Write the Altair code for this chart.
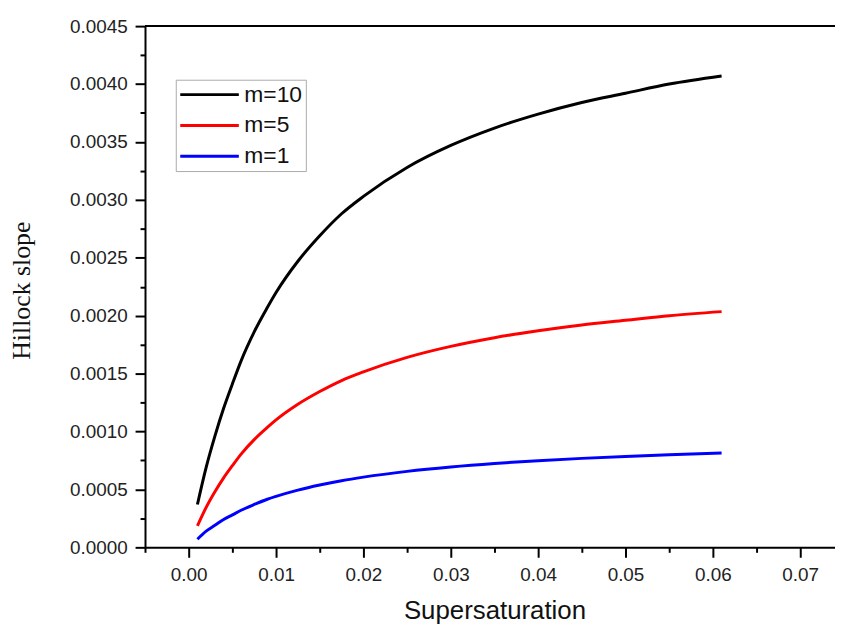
import altair as alt
import pandas as pd

# ---- data ----
sigma = [0.001, 0.002, 0.003, 0.004, 0.005, 0.006, 0.0075, 0.009, 0.01, 0.0125, 0.015,
         0.0175, 0.02, 0.025, 0.03, 0.035, 0.04, 0.045, 0.05, 0.055, 0.061]
slope_m10 = [0.00037, 0.00069, 0.00096, 0.00120, 0.00141, 0.00161, 0.00186, 0.00207, 0.00220,
             0.00247, 0.00269, 0.00288, 0.00303, 0.00328, 0.00347, 0.00362, 0.00374, 0.00384,
             0.00392, 0.00400, 0.00407]
slope_m5 = [0.000185, 0.000345, 0.00048, 0.000600, 0.000705, 0.000805, 0.00093, 0.001035, 0.00110,
            0.001235, 0.001345, 0.00144, 0.001515, 0.00164, 0.001735, 0.00181, 0.00187, 0.00192,
            0.00196, 0.00200, 0.002035]
slope_m1 = [0.00007, 0.00014, 0.00019, 0.00024, 0.00028, 0.00032, 0.00037, 0.000415, 0.00044,
            0.000494, 0.000538, 0.000575, 0.000606, 0.000656, 0.000694, 0.000724, 0.000748,
            0.000768, 0.000785, 0.000799, 0.000814]

series_names = ["m=10", "m=5", "m=1"]
series_colors = ["#000000", "#ff0000", "#0000ff"]

x_major = [0.0, 0.01, 0.02, 0.03, 0.04, 0.05, 0.06, 0.07]
x_minor = [-0.005, 0.005, 0.015, 0.025, 0.035, 0.045, 0.055, 0.065]
y_major = [0.0, 0.0005, 0.001, 0.0015, 0.002, 0.0025, 0.003, 0.0035, 0.004, 0.0045]
y_minor = [0.00025, 0.00075, 0.00125, 0.00175, 0.00225, 0.00275, 0.00325, 0.00375, 0.00425]

rows = []
for name, vals in zip(series_names, [slope_m10, slope_m5, slope_m1]):
    for s, v in zip(sigma, vals):
        rows.append({"sigma": s, "slope": v, "series": name})
df = pd.DataFrame(rows)

xscale = alt.Scale(domain=[-0.005, 0.07398], nice=False, zero=False)
yscale = alt.Scale(domain=[0.0, 0.0045], nice=False, zero=False)

LABEL_FONT = "Liberation Sans"

lines = alt.Chart(df).mark_line(strokeWidth=3, interpolate="monotone").encode(
    x=alt.X("sigma:Q", scale=xscale,
            axis=alt.Axis(values=x_major, format=".2f", title="Supersaturation",
                          orient="bottom", tickSize=10, labelPadding=8,
                          titleFont=LABEL_FONT, titleFontSize=26, titleFontWeight="normal",
                          titleColor="#111111", titleBaseline="alphabetic",
                          titleX=352, titleY=72)),
    y=alt.Y("slope:Q", scale=yscale,
            axis=alt.Axis(values=y_major, format=".4f", title="Hillock slope",
                          orient="left", tickSize=10, labelPadding=8,
                          titleFont="Liberation Serif", titleFontSize=26,
                          titleFontWeight="normal", titleColor="#111111",
                          titleBaseline="alphabetic", titleX=-116, titleY=266)),
    color=alt.Color("series:N",
                    scale=alt.Scale(domain=series_names, range=series_colors),
                    legend=alt.Legend(title=None, orient="none", legendX=31, legendY=54,
                                      symbolType="stroke", symbolSize=3481,
                                      symbolStrokeWidth=3, clipHeight=24, rowPadding=7,
                                      padding=3, labelFont=LABEL_FONT, labelFontSize=23,
                                      labelOffset=4, labelColor="#111111",
                                      strokeColor="#aaaaaa", fillColor="white")),
)

minor = alt.Chart(df).mark_point(opacity=0).encode(
    x=alt.X("sigma:Q", scale=xscale,
            axis=alt.Axis(values=x_minor, labels=False, domain=False, tickSize=5,
                          title=None, orient="bottom")),
    y=alt.Y("slope:Q", scale=yscale,
            axis=alt.Axis(values=y_minor, labels=False, domain=False, tickSize=5,
                          title=None, orient="left")),
)

top_df = pd.DataFrame({"ytop": [0.0045]})
top = alt.Chart(top_df).mark_rule(color="black", strokeWidth=2).encode(
    y=alt.Y("ytop:Q", scale=yscale, axis=None)
)

chart = alt.layer(lines, minor, top).resolve_axis(
    x="independent", y="independent"
).properties(
    width=695, height=525,
    autosize=alt.AutoSizeParams(type="none"),
    padding={"left": 138, "top": 16, "right": 0, "bottom": 79},
    background="white",
).configure_view(stroke=None).configure_axis(
    domainColor="black", domainWidth=2, tickColor="black", tickWidth=2,
    labelFont=LABEL_FONT, labelFontSize=19, labelColor="#222222", grid=False,
)

chart.save("out.html", embed_options={"renderer": "svg", "actions": False})
